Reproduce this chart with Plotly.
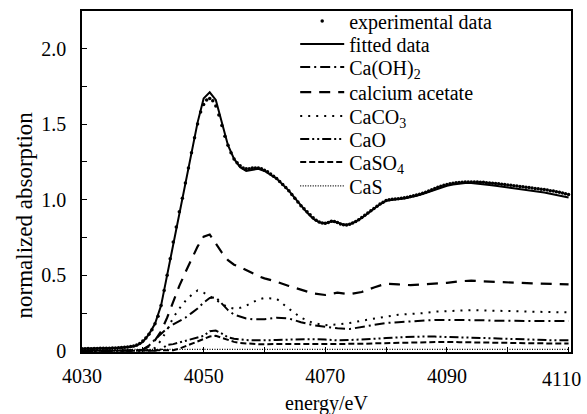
import plotly.graph_objects as go

# ---------------- data ----------------
energy_exp = [
    4030, 4030.5, 4031, 4031.5, 4032, 4032.5, 4033, 4033.5, 4034, 4034.5,
    4035, 4035.5, 4036, 4036.5, 4037, 4037.5, 4038, 4038.5, 4039, 4039.5,
    4040, 4040.5, 4041, 4041.5, 4042, 4042.5, 4043, 4043.5, 4044, 4044.5,
    4045, 4045.5, 4046, 4046.5, 4047, 4047.5, 4048, 4048.5, 4049, 4049.5,
    4050, 4050.5, 4051, 4051.5, 4052, 4052.5, 4053, 4053.5, 4054, 4054.5,
    4055, 4055.5, 4056, 4056.5, 4057, 4057.5, 4058, 4058.5, 4059, 4059.5,
    4060, 4060.5, 4061, 4061.5, 4062, 4062.5, 4063, 4063.5, 4064, 4064.5,
    4065, 4065.5, 4066, 4066.5, 4067, 4067.5, 4068, 4068.5, 4069, 4069.5,
    4070, 4070.5, 4071, 4071.5, 4072, 4072.5, 4073, 4073.5, 4074, 4074.5,
    4075, 4075.5, 4076, 4076.5, 4077, 4077.5, 4078, 4078.5, 4079, 4079.5,
    4080, 4080.5, 4081, 4081.5, 4082, 4082.5, 4083, 4083.5, 4084, 4084.5,
    4085, 4085.5, 4086, 4086.5, 4087, 4087.5, 4088, 4088.5, 4089, 4089.5,
    4090, 4090.5, 4091, 4091.5, 4092, 4092.5, 4093, 4093.5, 4094, 4094.5,
    4095, 4095.5, 4096, 4096.5, 4097, 4097.5, 4098, 4098.5, 4099, 4099.5,
    4100, 4100.5, 4101, 4101.5, 4102, 4102.5, 4103, 4103.5, 4104, 4104.5,
    4105, 4105.5, 4106, 4106.5, 4107, 4107.5, 4108, 4108.5, 4109, 4109.5,
    4110,
]
absorption_exp = [
    0.015, 0.015, 0.016, 0.015, 0.016, 0.016, 0.017, 0.017, 0.018, 0.018,
    0.019, 0.020, 0.021, 0.022, 0.024, 0.026, 0.030, 0.033, 0.040, 0.050,
    0.065, 0.085, 0.110, 0.140, 0.180, 0.230, 0.300, 0.400, 0.500, 0.610,
    0.720, 0.820, 0.920, 1.010, 1.110, 1.210, 1.310, 1.410, 1.500, 1.580,
    1.630, 1.660, 1.670, 1.655, 1.620, 1.560, 1.490, 1.420, 1.360, 1.310,
    1.270, 1.245, 1.225, 1.210, 1.205, 1.205, 1.210, 1.210, 1.210, 1.205,
    1.195, 1.185, 1.170, 1.155, 1.140, 1.120, 1.100, 1.080, 1.060, 1.035,
    1.010, 0.985, 0.960, 0.940, 0.920, 0.900, 0.880, 0.865, 0.852, 0.846,
    0.845, 0.850, 0.857, 0.856, 0.850, 0.840, 0.834, 0.833, 0.838, 0.846,
    0.856, 0.868, 0.882, 0.897, 0.912, 0.927, 0.942, 0.957, 0.971, 0.984,
    0.995, 1.000, 1.003, 1.005, 1.007, 1.010, 1.013, 1.017, 1.022, 1.027,
    1.032, 1.037, 1.043, 1.050, 1.058, 1.066, 1.074, 1.082, 1.089, 1.095,
    1.100, 1.105, 1.109, 1.112, 1.114, 1.116, 1.117, 1.118, 1.118, 1.118,
    1.117, 1.116, 1.115, 1.113, 1.111, 1.109, 1.107, 1.105, 1.103, 1.100,
    1.098, 1.095, 1.092, 1.090, 1.088, 1.085, 1.083, 1.080, 1.078, 1.075,
    1.073, 1.070, 1.067, 1.064, 1.060, 1.057, 1.053, 1.049, 1.045, 1.040,
    1.035,
]

energy_fit = [
    4030, 4031, 4032, 4033, 4034, 4035, 4036, 4037, 4038, 4039,
    4040, 4041, 4042, 4043, 4044, 4045, 4046, 4047, 4048, 4049,
    4050, 4051, 4052, 4053, 4054, 4055, 4056, 4057, 4058, 4059,
    4060, 4061, 4062, 4063, 4064, 4065, 4066, 4067, 4068, 4069,
    4070, 4071, 4072, 4073, 4074, 4075, 4076, 4077, 4078, 4079,
    4080, 4081, 4082, 4083, 4084, 4085, 4086, 4087, 4088, 4089,
    4090, 4091, 4092, 4093, 4094, 4095, 4096, 4097, 4098, 4099,
    4100, 4101, 4102, 4103, 4104, 4105, 4106, 4107, 4108, 4109,
    4110,
]
absorption_fit = [
    0.015, 0.015, 0.015, 0.016, 0.017, 0.018, 0.020, 0.022, 0.026, 0.035,
    0.060, 0.110, 0.180, 0.300, 0.500, 0.710, 0.910, 1.100, 1.300, 1.510,
    1.670, 1.710, 1.660, 1.500, 1.360, 1.270, 1.215, 1.190, 1.195, 1.205,
    1.190, 1.165, 1.140, 1.100, 1.060, 1.010, 0.960, 0.915, 0.875, 0.850,
    0.843, 0.857, 0.850, 0.835, 0.838, 0.855, 0.880, 0.910, 0.940, 0.970,
    0.993, 1.000, 1.004, 1.008, 1.016, 1.026, 1.038, 1.052, 1.066, 1.080,
    1.092, 1.101, 1.107, 1.110, 1.110, 1.107, 1.102, 1.097, 1.092, 1.087,
    1.082, 1.077, 1.071, 1.066, 1.060, 1.054, 1.047, 1.040, 1.032, 1.024,
    1.015,
]

energy_comp = [
    4030, 4031, 4032, 4033, 4034, 4035, 4036, 4037, 4038, 4039,
    4040, 4041, 4042, 4043, 4044, 4045, 4046, 4047, 4048, 4049,
    4050, 4051, 4052, 4053, 4054, 4055, 4056, 4057, 4058, 4059,
    4060,
    4062, 4064, 4066, 4068, 4070, 4072, 4074, 4076, 4078, 4080,
    4082, 4084, 4086, 4088, 4090, 4092, 4094, 4096, 4098, 4100,
    4102, 4104, 4106, 4108, 4110,
]
ca_oh2 = [
    0, 0, 0, 0, 0, 0, 0, 0, 0, 0.003,
    0.010, 0.035, 0.075, 0.115, 0.150, 0.175, 0.195, 0.220, 0.250, 0.280,
    0.320, 0.350, 0.355, 0.310, 0.270, 0.240, 0.225, 0.215, 0.210, 0.210,
    0.210,
    0.220, 0.215, 0.190, 0.170, 0.160, 0.150, 0.145, 0.160, 0.175, 0.185,
    0.190, 0.195, 0.200, 0.205, 0.205, 0.205, 0.205, 0.203, 0.200, 0.198,
    0.198, 0.198, 0.198, 0.198, 0.198,
]
calcium_acetate = [
    0, 0, 0, 0, 0, 0, 0, 0, 0, 0.002,
    0.008, 0.030, 0.070, 0.130, 0.220, 0.330, 0.430, 0.520, 0.610, 0.690,
    0.755, 0.770, 0.710, 0.650, 0.600, 0.570, 0.555, 0.535, 0.510, 0.495,
    0.480,
    0.458, 0.430, 0.405, 0.380, 0.370, 0.385, 0.375, 0.390, 0.420, 0.445,
    0.440, 0.435, 0.440, 0.445, 0.450, 0.460, 0.465, 0.460, 0.458, 0.455,
    0.450, 0.447, 0.445, 0.443, 0.440,
]
ca_co3 = [
    0, 0, 0, 0, 0, 0, 0, 0, 0, 0,
    0.000, 0.005, 0.020, 0.070, 0.140, 0.220, 0.280, 0.330, 0.370, 0.400,
    0.385, 0.365, 0.340, 0.310, 0.290, 0.280, 0.285, 0.300, 0.320, 0.340,
    0.350,
    0.345, 0.280, 0.220, 0.185, 0.170, 0.175, 0.185, 0.200, 0.215, 0.230,
    0.240, 0.245, 0.250, 0.260, 0.265, 0.270, 0.270, 0.268, 0.265, 0.265,
    0.262, 0.260, 0.258, 0.256, 0.255,
]
ca_o = [
    0, 0, 0, 0, 0, 0, 0, 0, 0, 0,
    0, 0, 0.002, 0.010, 0.040, 0.045, 0.055, 0.065, 0.075, 0.085,
    0.100, 0.130, 0.135, 0.115, 0.090, 0.080, 0.075, 0.072, 0.070, 0.070,
    0.070,
    0.072, 0.075, 0.078, 0.078, 0.075, 0.070, 0.072, 0.075, 0.080, 0.085,
    0.090, 0.095, 0.095, 0.095, 0.090, 0.090, 0.088, 0.085, 0.082, 0.080,
    0.078, 0.075, 0.072, 0.070, 0.070,
]
ca_so4 = [
    0, 0, 0, 0, 0, 0, 0, 0, 0, 0,
    0, 0, 0, 0, 0, 0.005, 0.015, 0.030, 0.045, 0.060,
    0.080, 0.095, 0.100, 0.085, 0.070, 0.060, 0.052, 0.048, 0.046, 0.045,
    0.045,
    0.045, 0.045, 0.045, 0.045, 0.045, 0.045, 0.045, 0.047, 0.050, 0.052,
    0.055, 0.058, 0.060, 0.060, 0.060, 0.058, 0.056, 0.055, 0.054, 0.053,
    0.052, 0.051, 0.050, 0.050, 0.050,
]
ca_s = [
    0.010, 0.010, 0.010, 0.010, 0.010, 0.010, 0.010, 0.010, 0.010, 0.010,
    0.010, 0.010, 0.010, 0.010, 0.010, 0.010, 0.010, 0.010, 0.010, 0.010,
    0.010, 0.010, 0.010, 0.010, 0.010, 0.010, 0.010, 0.010, 0.010, 0.010,
    0.010,
    0.010, 0.010, 0.010, 0.010, 0.010, 0.010, 0.010, 0.010, 0.010, 0.010,
    0.010, 0.010, 0.010, 0.010, 0.010, 0.010, 0.010, 0.010, 0.010, 0.010,
    0.010, 0.010, 0.010, 0.010, 0.010,
]

x_tickvals = [4030, 4050, 4070, 4090, 4110]
x_ticktext = ["4030", "4050", "4070", "4090", ""]
x_last_label = "4110"
y_tickvals = [0, 0.5, 1.0, 1.5, 2.0]
y_ticktext = ["0", "0.5", "1.0", "1.5", "2.0"]

legend_names = [
    "experimental data",
    "fitted data",
    "Ca(OH)<sub>2</sub>",
    "calcium acetate",
    "CaCO<sub>3</sub>",
    "CaO",
    "CaSO<sub>4</sub>",
    "CaS",
]

# ---------------- figure ----------------
FONT = "Liberation Serif"
fig = go.Figure()

comp_styles = [
    (ca_oh2, "10px,4px,2px,4px", 2),
    (calcium_acetate, "11px,8px", 2.2),
    (ca_co3, "2px,6px", 2),
    (ca_o, "9px,3px,2px,3px,2px,3px", 2),
    (ca_so4, "6px,3px", 2),
    (ca_s, "1px,1.5px", 1.3),
]
for i, (vals, dash, w) in enumerate(comp_styles):
    fig.add_trace(go.Scatter(
        x=energy_comp, y=vals, mode="lines", name=legend_names[i + 2],
        line=dict(color="black", width=w, dash=dash),
        legend="legend%d" % (i + 3),
    ))

fig.add_trace(go.Scatter(
    x=energy_fit, y=absorption_fit, mode="lines", name=legend_names[1],
    line=dict(color="black", width=2), legend="legend2",
))
fig.add_trace(go.Scatter(
    x=energy_exp, y=absorption_exp, mode="markers", name=legend_names[0],
    marker=dict(color="black", size=3.5), legend="legend",
))

row_y = [0.971, 0.903, 0.836, 0.762, 0.692, 0.625, 0.557, 0.487]
legends = {}
for i, yy in enumerate(row_y):
    key = "legend" if i == 0 else "legend%d" % (i + 1)
    legends[key] = dict(
        x=0.436, y=yy, xanchor="left", yanchor="middle",
        bgcolor="rgba(0,0,0,0)", borderwidth=0, itemwidth=44,
        font=dict(family=FONT, size=20, color="black"),
    )

fig.update_layout(
    width=587, height=414,
    margin=dict(l=82, r=16, t=11, b=62, autoexpand=False),
    paper_bgcolor="white", plot_bgcolor="white",
    font=dict(family=FONT, size=20, color="black"),
    showlegend=True,
    **legends,
    xaxis=dict(
        range=[4030, 4110.4], tickvals=x_tickvals, ticktext=x_ticktext,
        ticks="inside", ticklen=5, tickwidth=1.2, tickcolor="black",
        minor=dict(ticks="inside", ticklen=5, tickwidth=1.2, tickcolor="black",
                   tick0=4030, dtick=10),
        showline=True, linecolor="black", linewidth=1.5, mirror=True,
        showgrid=False, zeroline=False, automargin=False,
        tickfont=dict(family=FONT, size=20, color="black"),
        ticklabelstandoff=5,
    ),
    yaxis=dict(
        range=[-0.007, 2.248], tickvals=y_tickvals, ticktext=y_ticktext,
        ticks="inside", ticklen=5, tickwidth=1.2, tickcolor="black",
        minor=dict(ticks="inside", ticklen=5, tickwidth=1.2, tickcolor="black",
                   tick0=0, dtick=0.25),
        showline=True, linecolor="black", linewidth=1.5, mirror=True,
        showgrid=False, zeroline=False, automargin=False,
        tickfont=dict(family=FONT, size=20, color="black"),
        ticklabelstandoff=10,
    ),
    annotations=[
        dict(
            text="normalized absorption", textangle=-90,
            xref="paper", yref="paper", x=-0.1175, y=0.402,
            xanchor="center", yanchor="middle", showarrow=False,
            font=dict(family=FONT, size=23, color="black"),
        ),
        dict(
            text="energy/eV",
            xref="paper", yref="paper", x=0.5, y=-0.152,
            xanchor="center", yanchor="middle", showarrow=False,
            font=dict(family=FONT, size=20, color="black"),
        ),
        dict(
            text=x_last_label,
            xref="x", yref="paper", x=x_tickvals[-1], y=-0.079,
            xanchor="center", yanchor="middle", xshift=-7, showarrow=False,
            font=dict(family=FONT, size=20, color="black"),
        ),
    ],
)

fig.write_html("out.html")
